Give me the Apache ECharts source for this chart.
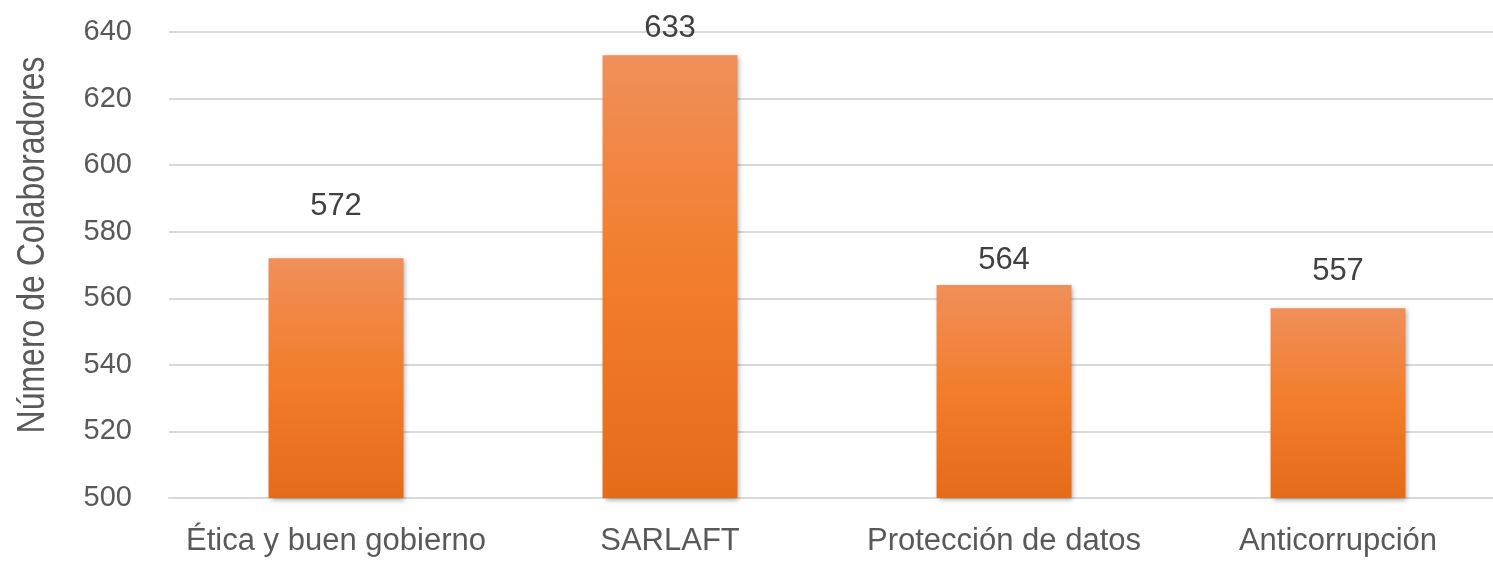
<!DOCTYPE html>
<html>
<head>
<meta charset="utf-8">
<script src="https://cdn.jsdelivr.net/npm/echarts@6/dist/echarts.min.js"></script>
<style>
  html, body { margin: 0; padding: 0; background: #fff; overflow: hidden; }
  /* plot area runs past the right edge in the original, so the canvas is a bit wider than the window */
  #chart { width: 1505px; height: 561px; }
</style>
</head>
<body>
<div id="chart"></div>
<script>
// data
const categories = ['Ética y buen gobierno', 'SARLAFT', 'Protección de datos', 'Anticorrupción'];
const colaboradores = [572, 633, 564, 557];
const yTicks = { min: 500, max: 640, step: 20 };
const yTitle = 'Número de Colaboradores';

// labels were hand-placed in the original, so each gets its own gap
const labelGap = [36, 11, 9, 21];

const FONT = '"Liberation Sans Narrow", "Arial Narrow", "Liberation Sans", Arial, sans-serif';

const chart = echarts.init(document.getElementById('chart'));

const option = {
    animation: false,
    grid: { left: 169, right: 0, top: 32, bottom: 63 },
    xAxis: {
        type: 'category',
        data: categories,
        axisLine: { show: true, lineStyle: { color: '#d9d9d9', width: 2 } },
        axisTick: { show: false },
        axisLabel: { color: '#595959', fontFamily: FONT, fontSize: 31, margin: 28, interval: 0 }
    },
    yAxis: {
        type: 'value',
        min: yTicks.min,
        max: yTicks.max,
        interval: yTicks.step,
        axisLine: { show: false },
        axisTick: { show: false },
        splitLine: { lineStyle: { color: '#d9d9d9', width: 2 } },
        axisLabel: { color: '#595959', fontFamily: FONT, fontSize: 29, margin: 37 }
    },
    graphic: [{
        type: 'text',
        x: 33,
        y: 245,
        rotation: Math.PI / 2,
        scaleX: 0.82,
        style: {
            text: yTitle,
            fill: '#595959',
            font: '39px ' + FONT,
            textAlign: 'center',
            textVerticalAlign: 'middle'
        }
    }],
    series: [{
        type: 'bar',
        barWidth: '40.4%',
        data: colaboradores.map((v, i) => ({
            value: v,
            label: { distance: labelGap[i] }
        })),
        itemStyle: {
            color: new echarts.graphic.LinearGradient(0, 0, 0, 1, [
                { offset: 0, color: '#f08f5a' },
                { offset: 0.5, color: '#f27d2a' },
                { offset: 1, color: '#e56b19' }
            ]),
            shadowColor: 'rgba(0,0,0,0.35)',
            shadowBlur: 5,
            shadowOffsetX: 2,
            shadowOffsetY: 2
        },
        label: {
            show: true,
            position: 'top',
            color: '#404040',
            fontFamily: FONT,
            fontSize: 31
        }
    }]
};

chart.setOption(option);
window.addEventListener('resize', () => chart.resize());
</script>
</body>
</html>
